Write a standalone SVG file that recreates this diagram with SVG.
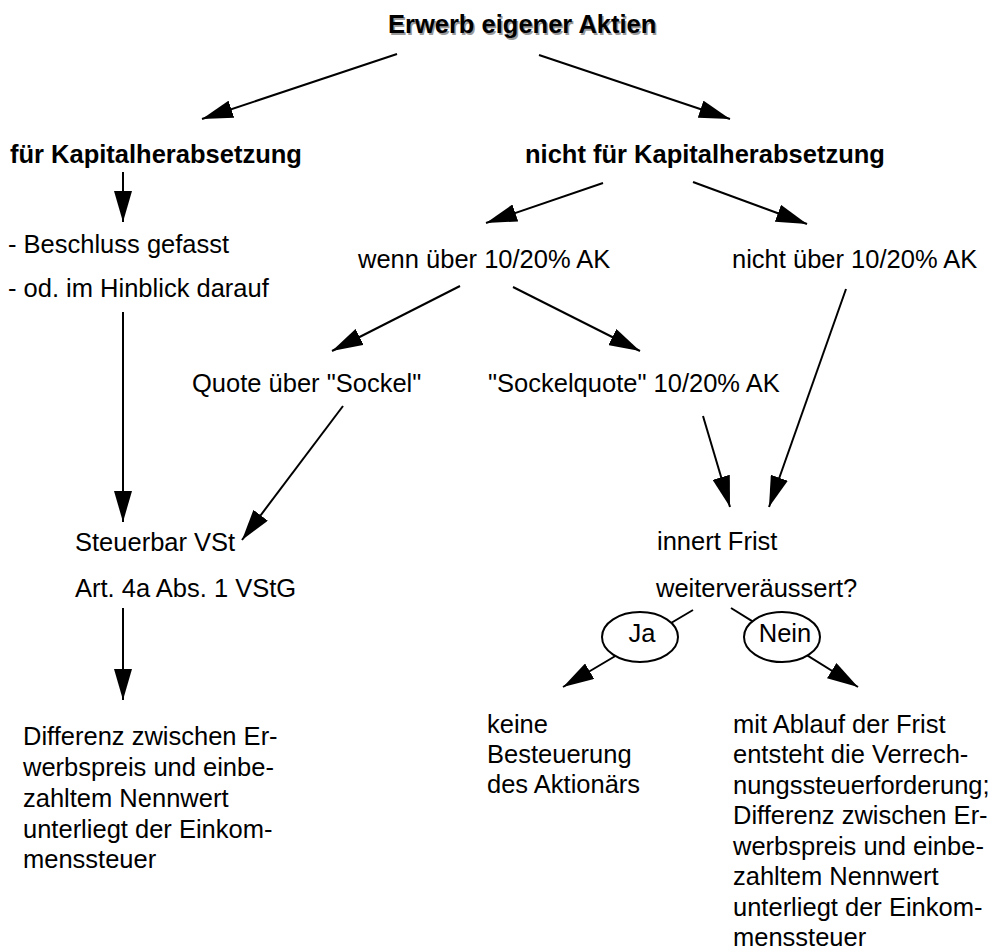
<svg xmlns="http://www.w3.org/2000/svg" width="993" height="950" viewBox="0 0 993 950">
<style>
text{font-family:"Liberation Sans",Arial,Helvetica,sans-serif;font-size:25.5px;fill:#000}
.b{font-weight:bold}
.sh{fill:#9a9a9a}
.c{text-anchor:middle}
.ln{stroke:#000;stroke-width:2;fill:none;marker-end:url(#ah)}
.el{fill:#fff;stroke:#000;stroke-width:2}
</style>
<defs>
<marker id="ah" markerUnits="userSpaceOnUse" markerWidth="31" markerHeight="18" viewBox="0 0 31 18" refX="31" refY="9" orient="auto"><path d="M0,0 L31,9 L0,18 z" fill="#000"/></marker>
</defs>
<rect width="993" height="950" fill="#fff"/>
<g id="connectors">
<path class="ln" d="M397,54 L202,119"/>
<path class="ln" d="M539,55 L730,119"/>
<path class="ln" d="M123,172 L123,222"/>
<path class="ln" d="M603,183 L486,223"/>
<path class="ln" d="M693,182 L807,224"/>
<path class="ln" d="M123,312 L123,522"/>
<path class="ln" d="M460,286 L332,351"/>
<path class="ln" d="M513,287 L640,351"/>
<path class="ln" d="M343,406 L242,540"/>
<path class="ln" d="M703,416 L730,507"/>
<path class="ln" d="M846,289 L769,507"/>
<path class="ln" d="M123,608 L123,700"/>
<path class="ln" d="M693,610 L563,687"/>
<path class="ln" d="M731,608 L858,687"/>
</g>
<g id="title">
<text class="b sh" x="389.5" y="34.5">Erwerb eigener Aktien</text>
<text class="b" x="388" y="33">Erwerb eigener Aktien</text>
</g>
<g id="fuer"><text class="b" x="10" y="163">für Kapitalherabsetzung</text></g>
<g id="nichtfuer"><text class="b" x="525" y="163">nicht für Kapitalherabsetzung</text></g>
<g id="beschluss">
<text x="8" y="253">- Beschluss gefasst</text>
<text x="8" y="297">- od. im Hinblick darauf</text>
</g>
<g id="wenn"><text x="358" y="268">wenn über 10/20% AK</text></g>
<g id="nichtueber"><text x="732" y="268">nicht über 10/20% AK</text></g>
<g id="quote"><text x="192" y="392">Quote über "Sockel"</text></g>
<g id="sockel"><text x="488" y="392">"Sockelquote" 10/20% AK</text></g>
<g id="steuerbar">
<text x="75" y="551">Steuerbar VSt</text>
<text x="75" y="597">Art. 4a Abs. 1 VStG</text>
</g>
<g id="frist">
<text x="657" y="550">innert Frist</text>
<text x="656" y="597">weiterveräussert?</text>
</g>
<g id="ja">
<ellipse class="el" cx="640" cy="637" rx="38" ry="25"/>
<text class="c" x="642" y="642">Ja</text>
</g>
<g id="nein">
<ellipse class="el" cx="782" cy="637" rx="38" ry="25"/>
<text class="c" x="785" y="642">Nein</text>
</g>
<g id="differenz">
<text x="23" y="745">Differenz zwischen Er-</text>
<text x="23" y="776">werbspreis und einbe-</text>
<text x="23" y="807">zahltem Nennwert</text>
<text x="23" y="838">unterliegt der Einkom-</text>
<text x="23" y="868">menssteuer</text>
</g>
<g id="keine">
<text x="487" y="733">keine</text>
<text x="487" y="763">Besteuerung</text>
<text x="487" y="793">des Aktionärs</text>
</g>
<g id="ablauf">
<text x="733" y="733">mit Ablauf der Frist</text>
<text x="733" y="763">entsteht die Verrech-</text>
<text x="733" y="794">nungssteuerforderung;</text>
<text x="733" y="824">Differenz zwischen Er-</text>
<text x="733" y="855">werbspreis und einbe-</text>
<text x="733" y="885">zahltem Nennwert</text>
<text x="733" y="916">unterliegt der Einkom-</text>
<text x="733" y="946">menssteuer</text>
</g>
</svg>
